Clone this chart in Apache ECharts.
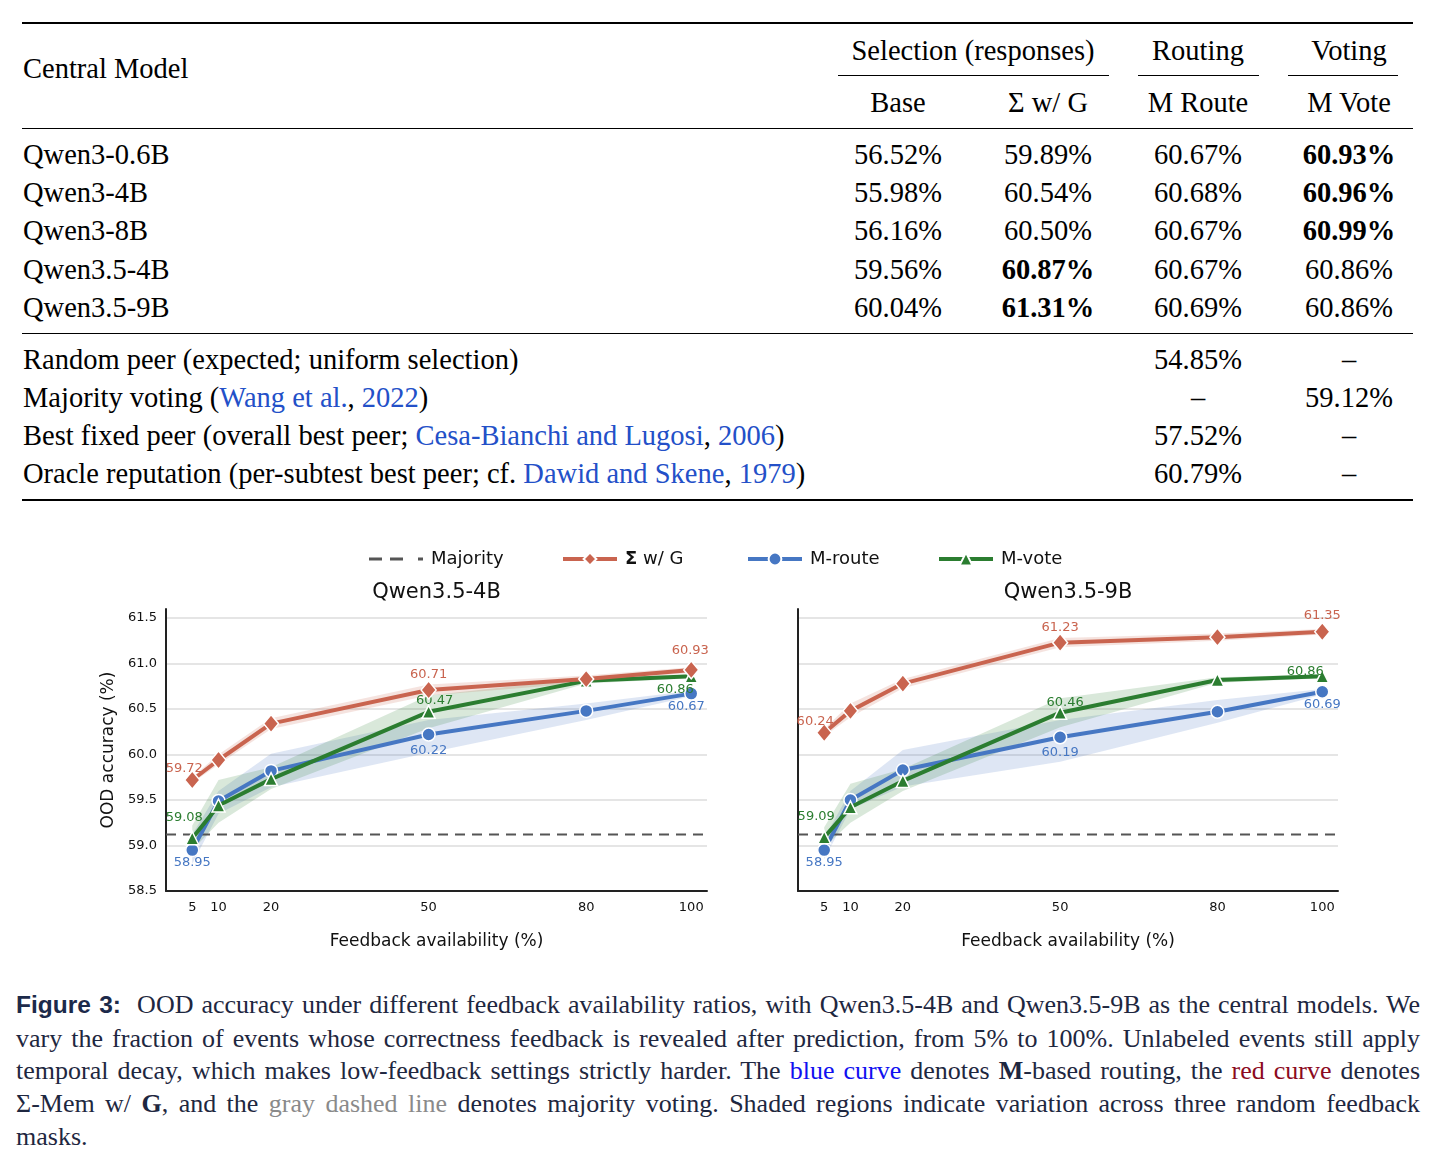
<!DOCTYPE html>
<html><head><meta charset="utf-8">
<script src="https://cdn.jsdelivr.net/npm/echarts@6/dist/echarts.min.js"></script>
<style>
html,body{margin:0;padding:0;background:#fff;}
body{width:1436px;height:1167px;position:relative;overflow:hidden;font-family:"Liberation Serif","Times New Roman",serif;color:#000;}
.t{position:absolute;white-space:nowrap;font-size:28.5px;line-height:1;}
.c{transform:translate(-50%,-50%);}
.l{transform:translateY(-50%);}
.rule{position:absolute;background:#000;}
.lnk{color:#2350c8;}
.b{font-weight:bold;}
#chart{position:absolute;left:0;top:520px;width:1436px;height:460px;}
.cap{position:absolute;left:16px;width:1404px;font-size:26px;line-height:1;color:#1e2740;text-align:justify;text-align-last:justify;white-space:normal;}
.fig{font-family:"Liberation Sans",Arial,sans-serif;font-weight:bold;font-size:24.5px;color:#1c2a4a;}
.blue{color:#1010f0;}
.red{color:#8c0a1e;}
.gray{color:#8a8a8a;}
</style></head>
<body>
<div id="table"></div>
<div id="chart"></div>
<div id="caption">
<div class="cap" style="top:992px"><span class="fig">Figure 3:</span>&nbsp; OOD accuracy under different feedback availability ratios, with Qwen3.5-4B and Qwen3.5-9B as the central models. We</div>
<div class="cap" style="top:1026px">vary the fraction of events whose correctness feedback is revealed after prediction, from 5% to 100%. Unlabeled events still apply</div>
<div class="cap" style="top:1058px">temporal decay, which makes low-feedback settings strictly harder. The <span class="blue">blue curve</span> denotes <b>M</b>-based routing, the <span class="red">red curve</span> denotes</div>
<div class="cap" style="top:1091px">Σ-Mem w/ <b>G</b>, and the <span class="gray">gray dashed line</span> denotes majority voting. Shaded regions indicate variation across three random feedback</div>
<div class="cap" style="top:1124px;text-align-last:left;">masks.</div>
</div>
<script>
// ---------- table data ----------
const models = ['Qwen3-0.6B','Qwen3-4B','Qwen3-8B','Qwen3.5-4B','Qwen3.5-9B'];
const selBase = ['56.52%','55.98%','56.16%','59.56%','60.04%'];
const selSigmaG = ['59.89%','60.54%','60.50%','60.87%','61.31%'];
const routeM = ['60.67%','60.68%','60.67%','60.67%','60.69%'];
const voteM = ['60.93%','60.96%','60.99%','60.86%','60.86%'];
const boldSigma = [false,false,false,true,true];
const boldVote = [true,true,true,false,false];
const baselineLabels = [
  'Random peer (expected; uniform selection)',
  'Majority voting (<span class="lnk">Wang et al.</span>, <span class="lnk">2022</span>)',
  'Best fixed peer (overall best peer; <span class="lnk">Cesa-Bianchi and Lugosi</span>, <span class="lnk">2006</span>)',
  'Oracle reputation (per-subtest best peer; cf. <span class="lnk">Dawid and Skene</span>, <span class="lnk">1979</span>)'
];
const baselineRoute = ['54.85%','–','57.52%','60.79%'];
const baselineVote = ['–','59.12%','–','–'];

// ---------- chart data ----------
const feedback = [5,10,20,50,80,100];
const yTicks = [58.5,59.0,59.5,60.0,60.5,61.0,61.5];
const majorityAcc = 59.12;
// Qwen3.5-4B
const sigma4B     = [59.72,59.94,60.34,60.71,60.83,60.93];
const sigma4BLow  = [59.69,59.89,60.28,60.65,60.79,60.90];
const sigma4BHigh = [59.75,60.00,60.40,60.77,60.87,60.96];
const route4B     = [58.95,59.49,59.82,60.22,60.48,60.67];
const route4BLow  = [58.80,59.35,59.64,60.02,60.38,60.64];
const route4BHigh = [59.12,59.60,60.01,60.38,60.56,60.70];
const vote4B      = [59.08,59.44,59.73,60.47,60.81,60.86];
const vote4BLow   = [58.95,59.25,59.62,60.29,60.78,60.84];
const vote4BHigh  = [59.22,59.72,59.86,60.65,60.84,60.88];
// Qwen3.5-9B
const sigma9B     = [60.24,60.48,60.78,61.23,61.29,61.35];
const sigma9BLow  = [60.20,60.41,60.73,61.18,61.25,61.32];
const sigma9BHigh = [60.28,60.56,60.83,61.28,61.33,61.38];
const route9B     = [58.95,59.50,59.83,60.19,60.47,60.69];
const route9BLow  = [58.85,59.40,59.65,59.92,60.35,60.66];
const route9BHigh = [59.08,59.60,60.05,60.38,60.60,60.72];
const vote9B      = [59.09,59.42,59.71,60.46,60.82,60.86];
const vote9BLow   = [58.98,59.25,59.60,60.30,60.79,60.84];
const vote9BHigh  = [59.20,59.68,59.84,60.62,60.85,60.88];

// ---------- build table ----------
(function(){
  const T = document.getElementById('table');
  let h = '';
  const rule = (x1,x2,y,w)=>{h += `<div class="rule" style="left:${x1}px;width:${x2-x1}px;top:${y}px;height:${w}px"></div>`;};
  const ctext = (x,y,txt,cls)=>{h += `<div class="t c ${cls||''}" style="left:${x}px;top:${y}px">${txt}</div>`;};
  const ltext = (x,y,txt)=>{h += `<div class="t l" style="left:${x}px;top:${y}px">${txt}</div>`;};
  const colX = [898,1048,1198,1349];
  rule(22,1413,21.5,2.2);
  rule(838,1109,75,1.2); rule(1138,1259,75,1.2); rule(1288,1398,75,1.2);
  rule(22,1413,127.5,1.3);
  rule(22,1413,332.5,1.3);
  rule(22,1413,499,2.2);
  ltext(23,69,'Central Model');
  ctext(973,51,'Selection (responses)');
  ctext(1198,51,'Routing');
  ctext(1349,51,'Voting');
  ctext(colX[0],103,'Base');
  ctext(colX[1],103,'Σ w/ G');
  ctext(colX[2],103,'M Route');
  ctext(colX[3],103,'M Vote');
  const rowY = [155,193,231,270,308];
  models.forEach((m,i)=>{
    ltext(23,rowY[i],m);
    ctext(colX[0],rowY[i],selBase[i]);
    ctext(colX[1],rowY[i],selSigmaG[i],boldSigma[i]?'b':'');
    ctext(colX[2],rowY[i],routeM[i]);
    ctext(colX[3],rowY[i],voteM[i],boldVote[i]?'b':'');
  });
  const baseY = [360,398,436,474];
  baselineLabels.forEach((lab,i)=>{
    ltext(23,baseY[i],lab);
    ctext(colX[2],baseY[i],baselineRoute[i]);
    ctext(colX[3],baseY[i],baselineVote[i]);
  });
  T.innerHTML = h;
})();

// ---------- build chart ----------
const F = 'DejaVu Sans';
const colors = {sigma:'#C9644F', route:'#4677C3', vote:'#2B7D30', maj:'#555555'};
const names = {sigma:'Σ w/ G', route:'M-route', vote:'M-vote'};
const symbols = {sigma:{symbol:'diamond', size:[15,18]}, route:{symbol:'circle', size:13}, vote:{symbol:'triangle', size:13}};
const panels = [
  {title:'Qwen3.5-4B', sigma:[sigma4B,sigma4BLow,sigma4BHigh], route:[route4B,route4BLow,route4BHigh], vote:[vote4B,vote4BLow,vote4BHigh]},
  {title:'Qwen3.5-9B', sigma:[sigma9B,sigma9BLow,sigma9BHigh], route:[route9B,route9BLow,route9BHigh], vote:[vote9B,vote9BLow,vote9BHigh]}
];
const gridLayout = [{left:166,width:541,cx:436.5},{left:798,width:540,cx:1068}];
const gridTop = 89, gridH = 282;
const xMin = 0, xMax = 103, yMin = 58.5, yMax = 61.6;
const majLabelX = 95.8;
const labelOffsets = [
  {sigma:{0:[-8,-11],3:[0,-15],5:[-1,-19]}, route:{0:[0,13],3:[0,16],5:[-5,13]}, vote:{0:[-8,-21],3:[6,-11],5:[-16,13]}},
  {sigma:{0:[-9,-11],3:[0,-15],5:[0,-16]}, route:{0:[0,13],3:[0,15],5:[0,13]}, vote:{0:[-8,-21],3:[5,-10],5:[-17,-5]}}
];

const series = [];
panels.forEach((P,p)=>{
  ['route','vote','sigma'].forEach(key=>{
    const lo = P[key][1], hi = P[key][2];
    series.push({type:'custom', name:'band-'+key+p, xAxisIndex:p, yAxisIndex:p, silent:true, z:1,
      data: feedback.map((x,i)=>[x, lo[i], hi[i]]),
      encode:{x:0, y:[1,2]},
      renderItem:(params, api)=>{
        if (params.dataIndex !== 0) return null;
        const upper = feedback.map((x,i)=>api.coord([x, hi[i]]));
        const lower = feedback.map((x,i)=>api.coord([x, lo[i]])).reverse();
        return {type:'polygon', shape:{points: upper.concat(lower)}, style:{fill: colors[key], opacity:0.18}};
      }
    });
  });
  series.push({type:'line', name:'Majority', xAxisIndex:p, yAxisIndex:p, data:[[xMin,majorityAcc],[xMax,majorityAcc]],
    symbol:'none', lineStyle:{color:colors.maj, width:2, type:[10,7]}, silent:true, z:2});
  series.push({type:'scatter', name:'maj-label'+p, xAxisIndex:p, yAxisIndex:p, data:[[majLabelX,majorityAcc]],
    symbolSize:1, itemStyle:{opacity:0}, silent:true, z:2,
    label:{show:true, position:'top', distance:4, formatter:()=>majorityAcc.toFixed(2), color:'#444', fontSize:13, fontFamily:F}});
  [['route',3],['vote',4],['sigma',5]].forEach(([key,z])=>{
    const vals = P[key][0];
    const offs = labelOffsets[p][key];
    series.push({type:'line', name:names[key], xAxisIndex:p, yAxisIndex:p, z:z,
      symbol:symbols[key].symbol, symbolSize:symbols[key].size,
      lineStyle:{color:colors[key], width:4},
      itemStyle:{color:colors[key], borderColor:'#fff', borderWidth:1.5},
      data: feedback.map((x,i)=>{
        const item = {value:[x, vals[i]]};
        if (offs[i]) item.label = {show:true, position:'inside', offset:offs[i],
          formatter:(d)=>d.value[1].toFixed(2), color:colors[key], fontSize:13, fontFamily:F};
        return item;
      })
    });
  });
});

const legendNames = ['Majority','Σ w/ G','M-route','M-vote'];
const legendLeft = [364,556,741,932];
const dashIcon = 'path://M0,0h13v3H0zM21,0h13v3H21zM49,0h5v3H49z';
const chart = echarts.init(document.getElementById('chart'), null, {renderer:'canvas'});
chart.setOption({
  animation:false,
  backgroundColor:'#fff',
  grid: gridLayout.map(g=>({left:g.left, top:gridTop, width:g.width, height:gridH, containLabel:false, outerBoundsMode:'none'})),
  xAxis: gridLayout.map((g,p)=>({type:'value', gridIndex:p, min:xMin, max:xMax,
    name:'Feedback availability (%)', nameLocation:'middle', nameGap:42, nameMoveOverlap:false,
    nameTextStyle:{fontFamily:F, fontSize:17, color:'#111'},
    axisLine:{show:true, onZero:false, lineStyle:{color:'#222', width:2}},
    axisTick:{show:false, customValues:feedback},
    axisLabel:{customValues:feedback, fontFamily:F, fontSize:13, color:'#111', margin:10},
    splitLine:{show:false}})),
  yAxis: gridLayout.map((g,p)=>({type:'value', gridIndex:p, min:yMin, max:yMax, interval:0.5,
    name: p===0 ? 'OOD accuracy (%)' : '', nameLocation:'middle', nameGap:49, nameMoveOverlap:false,
    nameTextStyle:{fontFamily:F, fontSize:17, color:'#111'},
    axisLine:{show:true, onZero:false, lineStyle:{color:'#222', width:2}},
    axisTick:{show:false, customValues:yTicks},
    axisLabel:{show:p===0, customValues:yTicks, formatter:v=>v.toFixed(1), fontFamily:F, fontSize:13, color:'#111', margin:9},
    splitLine:{show:true, lineStyle:{color:'#dcdcdc', width:1.5}}})),
  legend: legendNames.map((n,i)=>({
    data:[i===0 ? {name:n, icon:dashIcon, itemStyle:{color:colors.maj}} : n],
    left:legendLeft[i], top:25, itemWidth:54, itemHeight: i===0 ? 3 : 16, selectedMode:false,
    lineStyle:{width:4},
    formatter: name => name==='Σ w/ G' ? '{b|Σ} w/ G' : name,
    textStyle:{fontFamily:F, fontSize:18, color:'#111', padding:[0,0,0,3], rich:{b:{fontFamily:F, fontSize:18, fontWeight:'bold', color:'#111'}}}})),
  graphic: panels.map((P,p)=>({type:'text', x:gridLayout[p].cx, y:73, silent:true,
    style:{text:P.title, font:'21px "DejaVu Sans"', fill:'#111', textAlign:'center', textVerticalAlign:'middle'}})),
  series: series
});
</script>
</body></html>
